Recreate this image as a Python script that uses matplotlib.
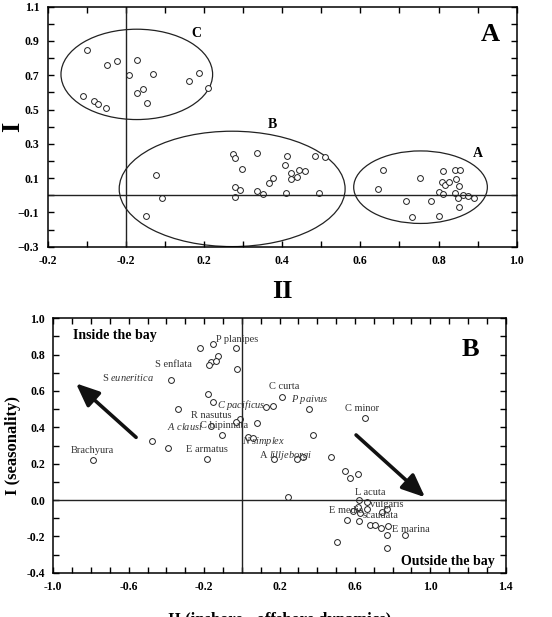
import numpy as np
import matplotlib.pyplot as plt
from matplotlib.patches import Ellipse

plt.rcParams['font.family'] = 'Liberation Serif'
plt.rcParams['mathtext.fontset'] = 'custom'
plt.rcParams['mathtext.rm'] = 'Liberation Serif'
plt.rcParams['mathtext.it'] = 'Liberation Serif:italic'

# ---- panel A data (groups of samples) ----
cx = [-0.099, -0.049, -0.022, 0.028, 0.008, 0.070, -0.110, -0.081, -0.071, -0.052,
      0.028, 0.045, 0.053, 0.162, 0.187, 0.211]
cy = [0.846, 0.758, 0.781, 0.789, 0.703, 0.707, 0.579, 0.551, 0.534, 0.506,
      0.595, 0.622, 0.540, 0.664, 0.711, 0.624]
bx = [0.077, 0.093, 0.051, 0.273, 0.278, 0.296, 0.336, 0.278, 0.292, 0.279, 0.335,
      0.350, 0.365, 0.377, 0.407, 0.413, 0.423, 0.423, 0.437, 0.443, 0.458, 0.483,
      0.510, 0.411, 0.494]
by = [0.121, -0.017, -0.123, 0.239, 0.215, 0.152, 0.245, 0.050, 0.028, -0.013, 0.022,
      0.007, 0.072, 0.099, 0.176, 0.231, 0.127, 0.093, 0.107, 0.150, 0.139, 0.227,
      0.225, 0.011, 0.015]
ax_ = [0.644, 0.657, 0.718, 0.733, 0.752, 0.780, 0.800, 0.800, 0.808, 0.812, 0.812,
       0.817, 0.827, 0.842, 0.846, 0.843, 0.852, 0.855, 0.862, 0.849, 0.852, 0.875, 0.890]
ay_ = [0.038, 0.148, -0.033, -0.127, 0.101, -0.031, 0.021, -0.123, 0.078, 0.142, 0.007,
       0.062, 0.078, 0.150, 0.097, 0.015, 0.054, 0.150, -0.001, -0.017, -0.068, -0.007, -0.017]
# ellipses: (center x, center y, width, height)
ell = {'C': (0.028, 0.705, 0.388, 0.527),
       'B': (0.272, 0.037, 0.578, 0.673),
       'A': (0.754, 0.047, 0.342, 0.423)}
ell_lab = {'C': (0.181, 0.945), 'B': (0.376, 0.412), 'A': (0.901, 0.241)}
xt_a = [-0.2, 0.0, 0.2, 0.4, 0.6, 0.8, 1.0]
xtl_a = ['-0.2', '-0.2', '0.2', '0.4', '0.6', '0.8', '1.0']
yt_a = [-0.3, -0.1, 0.1, 0.3, 0.5, 0.7, 0.9, 1.1]

# ---- panel B data (species) ----
sx = [-0.791, -0.478, -0.390, -0.377, -0.336, -0.222, -0.151, -0.125, -0.163, -0.176,
      -0.137, -0.031, -0.028, -0.178, -0.155, -0.163, -0.103, -0.186, -0.009, -0.031,
      0.079, 0.032, 0.061, 0.126, 0.164, 0.215, 0.358, 0.173, 0.295, 0.323, 0.380,
      0.473, 0.243, 0.654, 0.546, 0.576, 0.615, 0.620, 0.663, 0.589, 0.618, 0.627,
      0.663, 0.742, 0.769, 0.556, 0.620, 0.678, 0.707, 0.737, 0.778, 0.770, 0.864,
      0.770, 0.503]
sy = [0.218, 0.325, 0.286, 0.659, 0.503, 0.839, 0.857, 0.793, 0.760, 0.741,
      0.765, 0.835, 0.719, 0.585, 0.538, 0.409, 0.356, 0.228, 0.446, 0.428,
      0.426, 0.349, 0.339, 0.512, 0.516, 0.567, 0.499, 0.224, 0.226, 0.239, 0.358,
      0.235, 0.015, 0.450, 0.161, 0.119, 0.145, 0.000, -0.011, -0.059, -0.037, -0.073,
      -0.051, -0.066, -0.051, -0.110, -0.114, -0.139, -0.139, -0.152, -0.141, -0.193, -0.191,
      -0.262, -0.229]
names = ['P planipes', 'S enflata', r'S $\mathit{euneritica}$', r'$\mathit{C\ pacificus}$',
         'R nasutus', r'$\mathit{A\ clausi}$', 'C bipinnata', r'$\mathit{N\ simplex}$',
         'E armatus', 'Brachyura', r'A $\mathit{lilljeborgi}$', 'C curta',
         r'$\mathit{P\ paivus}$', 'C minor', 'L acuta', 'vulgaris', 'E media',
         'scaudata', 'E marina']
name_x = [-0.137, -0.363, -0.602, -0.130, -0.160, -0.301, -0.093, 0.114, -0.186, -0.793,
          0.235, 0.226, 0.361, 0.640, 0.680, 0.769, 0.556, 0.737, 0.897]
name_y = [0.886, 0.747, 0.677, 0.523, 0.464, 0.407, 0.410, 0.323, 0.279, 0.273,
          0.244, 0.626, 0.554, 0.505, 0.042, -0.022, -0.057, -0.086, -0.165]
name_ha = ['left', 'center', 'center', 'left', 'center', 'center', 'center', 'center',
           'center', 'center', 'center', 'center', 'center', 'center', 'center',
           'center', 'center', 'center', 'center']
arrows = [((-0.561, 0.345), (-0.880, 0.642)), ((0.606, 0.358), (0.972, 0.015))]

fig = plt.figure(figsize=(5.52, 6.17), dpi=100)


def style(ax):
    for s in ax.spines.values():
        s.set_linewidth(1.1)
    ax.tick_params(which='both', direction='in', top=True, right=True,
                   length=4, width=1.0, labelsize=8.5, pad=6)
    for lab in ax.get_xticklabels() + ax.get_yticklabels():
        lab.set_fontweight('bold')


# panel A
a1 = fig.add_axes([0.0864, 0.6002, 0.8496, 0.389])
a1.plot(cx, cy, 'o', mfc='white', mec='#222222', ms=4.2, mew=0.7)
a1.plot(bx, by, 'o', mfc='white', mec='#222222', ms=4.2, mew=0.7)
a1.plot(ax_, ay_, 'o', mfc='white', mec='#222222', ms=4.2, mew=0.7)
for k, (ex, ey, ew, eh) in ell.items():
    a1.add_patch(Ellipse((ex, ey), ew, eh, fill=False, lw=0.9, ec='#222222'))
    a1.text(ell_lab[k][0], ell_lab[k][1], k, fontsize=10, fontweight='bold',
            ha='center', va='center')
a1.axhline(0, color='#222222', lw=1.0)
a1.axvline(0, color='#222222', lw=1.0)
a1.set_xlim(-0.2, 1.0)
a1.set_ylim(-0.3, 1.1)
a1.set_xticks(xt_a)
a1.set_xticklabels(xtl_a)
a1.set_yticks(yt_a)
a1.set_xticks(np.arange(-0.2, 1.01, 0.1), minor=True)
a1.set_yticks(np.arange(-0.3, 1.11, 0.1), minor=True)
style(a1)
a1.text(0.932, 0.939, 'A', fontsize=19, fontweight='bold', ha='center', va='center')
a1.set_xlabel('II', fontsize=19, fontweight='bold', labelpad=9)
a1.set_ylabel('I', fontsize=19, fontweight='bold')
a1.yaxis.set_label_coords(-0.05, 0.5)

# panel B
a2 = fig.add_axes([0.0966, 0.0718, 0.8196, 0.4123])
a2.plot(sx, sy, 'o', mfc='white', mec='#222222', ms=4.2, mew=0.7)
for n, x, y, ha in zip(names, name_x, name_y, name_ha):
    a2.text(x, y, n, fontsize=7.5, color='#333333', ha=ha, va='center')
for (x0, y0), (x1, y1) in arrows:
    a2.annotate('', xy=(x1, y1), xytext=(x0, y0),
                arrowprops=dict(arrowstyle='-|>,head_length=1.4,head_width=0.6',
                                color='#111111', lw=2.6, shrinkA=0, shrinkB=0))
a2.axhline(0, color='#222222', lw=1.0)
a2.axvline(0, color='#222222', lw=1.0)
a2.set_xlim(-1.0, 1.4)
a2.set_ylim(-0.4, 1.0)
a2.set_xticks(np.arange(-1.0, 1.41, 0.4))
a2.set_xticklabels(['-1.0', '-0.6', '-0.2', '0.2', '0.6', '1.0', '1.4'])
a2.set_yticks(np.arange(-0.4, 1.01, 0.2))
a2.set_yticklabels(['-0.4', '-0.2', '0.0', '0.2', '0.4', '0.6', '0.8', '1.0'])
a2.set_xticks(np.arange(-1.0, 1.41, 0.1), minor=True)
a2.set_yticks(np.arange(-0.4, 1.01, 0.1), minor=True)
style(a2)
a2.text(-0.897, 0.908, 'Inside the bay', fontsize=10, fontweight='bold', ha='left', va='center')
a2.text(1.343, -0.341, 'Outside the bay', fontsize=10, fontweight='bold', ha='right', va='center')
a2.text(1.211, 0.826, 'B', fontsize=19, fontweight='bold', ha='center', va='center')
a2.set_xlabel('II (inshore - offshore dynamics)', fontsize=12, fontweight='bold', labelpad=14)
a2.set_ylabel('I (seasonality)', fontsize=12, fontweight='bold', labelpad=4)

fig.savefig('out.png', dpi=100)
